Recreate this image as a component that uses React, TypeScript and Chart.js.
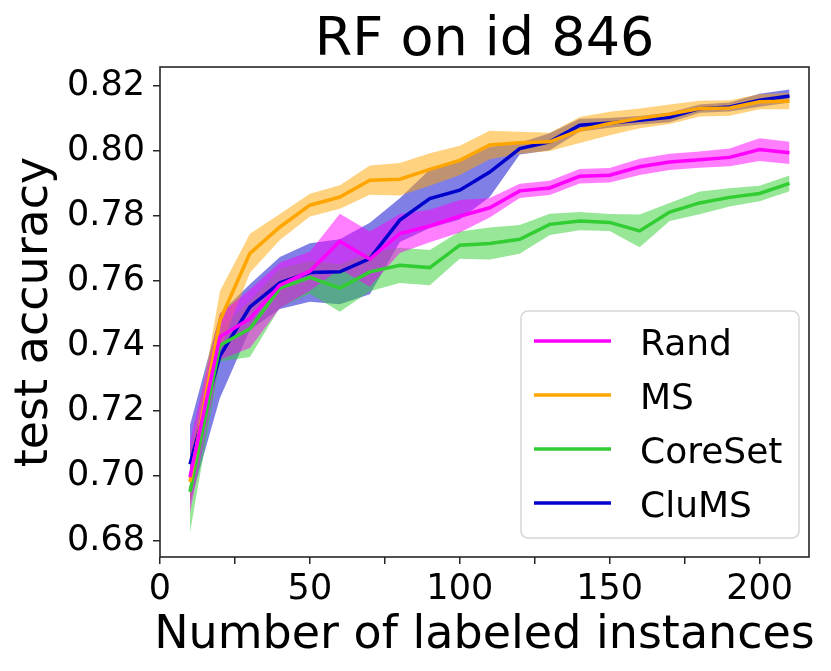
import { useEffect, useRef } from 'react';
import { Chart, registerables } from 'chart.js';

Chart.register(...registerables);

const W = 831;
const H = 671;

// number of labeled instances
const labeled = [10, 20, 30, 40, 50, 60, 70, 80, 90, 100, 110, 120, 130, 140, 150, 160, 170, 180, 190, 200, 210];

const randMean = [0.6997, 0.7428, 0.7484, 0.7587, 0.763, 0.7722, 0.7667, 0.7746, 0.7769, 0.7799, 0.7825, 0.7877, 0.7886, 0.7922, 0.7925, 0.7951, 0.7966, 0.7973, 0.798, 0.8004, 0.7994];
const randStd = [0.011, 0.007, 0.009, 0.007, 0.006, 0.0085, 0.0085, 0.006, 0.005, 0.005, 0.003, 0.0022, 0.0022, 0.0022, 0.0022, 0.0025, 0.0025, 0.0025, 0.0027, 0.0035, 0.0034];

const msMean = [0.6982, 0.7479, 0.7685, 0.7766, 0.7833, 0.7858, 0.791, 0.7913, 0.7943, 0.7971, 0.8018, 0.8025, 0.8028, 0.8064, 0.8084, 0.81, 0.8113, 0.813, 0.8132, 0.8151, 0.8153];
const msStd = [0.006, 0.009, 0.006, 0.004, 0.0035, 0.0036, 0.0045, 0.005, 0.005, 0.0045, 0.0044, 0.0034, 0.0028, 0.004, 0.0036, 0.003, 0.003, 0.0024, 0.0024, 0.0023, 0.0025];

const coreMean = [0.6951, 0.7402, 0.7453, 0.7578, 0.7611, 0.7578, 0.7628, 0.7648, 0.7641, 0.771, 0.7715, 0.7728, 0.7774, 0.7784, 0.778, 0.7754, 0.7812, 0.784, 0.7857, 0.7869, 0.79];
const coreStd = [0.0125, 0.005, 0.0087, 0.006, 0.005, 0.0073, 0.006, 0.0054, 0.0054, 0.0042, 0.0049, 0.0044, 0.0033, 0.0028, 0.0026, 0.005, 0.0028, 0.0035, 0.0028, 0.0024, 0.0024];

const clumsMean = [0.7036, 0.737, 0.752, 0.7594, 0.7626, 0.7628, 0.7669, 0.7787, 0.7853, 0.7879, 0.7935, 0.8007, 0.8028, 0.8079, 0.8086, 0.8094, 0.8103, 0.813, 0.8135, 0.8156, 0.8169];
const clumsStd = [0.012, 0.013, 0.007, 0.008, 0.009, 0.01, 0.011, 0.0067, 0.009, 0.009, 0.0077, 0.0018, 0.0026, 0.002, 0.0015, 0.0013, 0.0015, 0.0013, 0.0014, 0.002, 0.002];

const series = [
  { label: 'Rand', color: '#ff00ff', band: 'rgba(255, 0, 255, 0.5)', mean: randMean, std: randStd },
  { label: 'MS', color: '#ffa500', band: 'rgba(255, 165, 0, 0.5)', mean: msMean, std: msStd },
  { label: 'CoreSet', color: '#32cd32', band: 'rgba(50, 205, 50, 0.5)', mean: coreMean, std: coreStd },
  { label: 'CluMS', color: '#0000cd', band: 'rgba(0, 0, 205, 0.5)', mean: clumsMean, std: clumsStd },
];

const yTicks = [0.68, 0.7, 0.72, 0.74, 0.76, 0.78, 0.8, 0.82];
const xTicks = [0, 25, 50, 75, 100, 125, 150, 175, 200];
const xTickLabels = [0, 50, 100, 150, 200];

const FONT = "'DejaVu Sans', sans-serif";

const decor = {
  id: 'decor',
  afterDatasetsDraw(chart: Chart) {
    const { ctx, chartArea: a } = chart;
    ctx.save();
    ctx.strokeStyle = '#262626';
    ctx.lineWidth = 1.6;
    ctx.strokeRect(a.left, a.top, a.right - a.left, a.bottom - a.top);

    // legend box
    ctx.beginPath();
    ctx.roundRect(521, 311, 278, 227, 7);
    ctx.fillStyle = 'rgba(255, 255, 255, 0.8)';
    ctx.fill();
    ctx.strokeStyle = '#d6d6d6';
    ctx.lineWidth = 1.5;
    ctx.stroke();
    ctx.font = `36px ${FONT}`;
    ctx.textBaseline = 'alphabetic';
    ctx.textAlign = 'left';
    series.forEach((s, i) => {
      const y = 341 + i * 54;
      ctx.beginPath();
      ctx.moveTo(534, y);
      ctx.lineTo(611, y);
      ctx.strokeStyle = s.color;
      ctx.lineWidth = 3.5;
      ctx.stroke();
      ctx.fillStyle = '#000';
      ctx.fillText(s.label, 640, y + 13.5);
    });

    // titles
    const cx = (a.left + a.right) / 2;
    ctx.fillStyle = '#000';
    ctx.textAlign = 'center';
    ctx.font = `54px ${FONT}`;
    ctx.fillText('RF on id 846', cx, 55);
    ctx.font = `46px ${FONT}`;
    ctx.fillText('Number of labeled instances', cx, 648);
    ctx.translate(47, (a.top + a.bottom) / 2);
    ctx.rotate(-Math.PI / 2);
    ctx.fillText('test accuracy', 0, 0);
    ctx.restore();
  },
};

export default function App() {
  const canvasRef = useRef<HTMLCanvasElement>(null);

  useEffect(() => {
    if (!canvasRef.current) return;
    document.body.style.margin = '0';

    // all bands below all lines; CluMS drawn first, Rand last (on top)
    const bands: any[] = [];
    const lines: any[] = [];
    series.forEach((s, k) => {
      bands.push({
        label: s.label + ' upper',
        data: labeled.map((x, i) => ({ x, y: s.mean[i] + s.std[i] })),
        borderWidth: 0,
        pointRadius: 0,
        backgroundColor: s.band,
        fill: '+1',
        order: 100 + k,
      });
      bands.push({
        label: s.label + ' lower',
        data: labeled.map((x, i) => ({ x, y: s.mean[i] - s.std[i] })),
        borderWidth: 0,
        pointRadius: 0,
        fill: false,
        order: 100 + k,
      });
      lines.push({
        label: s.label,
        data: labeled.map((x, i) => ({ x, y: s.mean[i] })),
        borderColor: s.color,
        borderWidth: 3.5,
        pointRadius: 0,
        fill: false,
        tension: 0,
        order: 10 + k,
      });
    });

    const chart = new Chart(canvasRef.current, {
      type: 'line',
      data: { datasets: [...bands, ...lines] },
      options: {
        responsive: false,
        animation: false,
        layout: { padding: { top: 67, right: 22, left: 0, bottom: 0 } },
        plugins: {
          legend: { display: false },
          tooltip: { enabled: false },
          title: { display: false },
        },
        scales: {
          x: {
            type: 'linear',
            min: 0,
            max: 216.5,
            afterFit: (scale: any) => { scale.height = H - 557; },
            afterBuildTicks: (scale: any) => { scale.ticks = xTicks.map((v) => ({ value: v })); },
            grid: { drawOnChartArea: false, drawTicks: true, tickLength: 7, tickColor: '#262626', lineWidth: 1.5 },
            border: { display: false },
            ticks: {
              autoSkip: false,
              maxRotation: 0,
              padding: 5,
              color: '#000',
              font: { family: FONT, size: 35 },
              callback: (v: any) => (xTickLabels.includes(Number(v)) ? String(v) : ''),
            },
          },
          y: {
            type: 'linear',
            min: 0.6751,
            max: 0.8258,
            afterFit: (scale: any) => { scale.width = 160; },
            afterBuildTicks: (scale: any) => { scale.ticks = yTicks.map((v) => ({ value: v })); },
            grid: { drawOnChartArea: false, drawTicks: true, tickLength: 7, tickColor: '#262626', lineWidth: 1.5 },
            border: { display: false },
            ticks: {
              autoSkip: false,
              padding: 8,
              color: '#000',
              font: { family: FONT, size: 35 },
              callback: (v: any) => Number(v).toFixed(2),
            },
          },
        },
      },
      plugins: [decor],
    });

    return () => chart.destroy();
  }, []);

  return (
    <div style={{ width: W, height: H, background: '#fff' }}>
      <canvas ref={canvasRef} width={W} height={H} style={{ display: 'block' }} />
    </div>
  );
}
